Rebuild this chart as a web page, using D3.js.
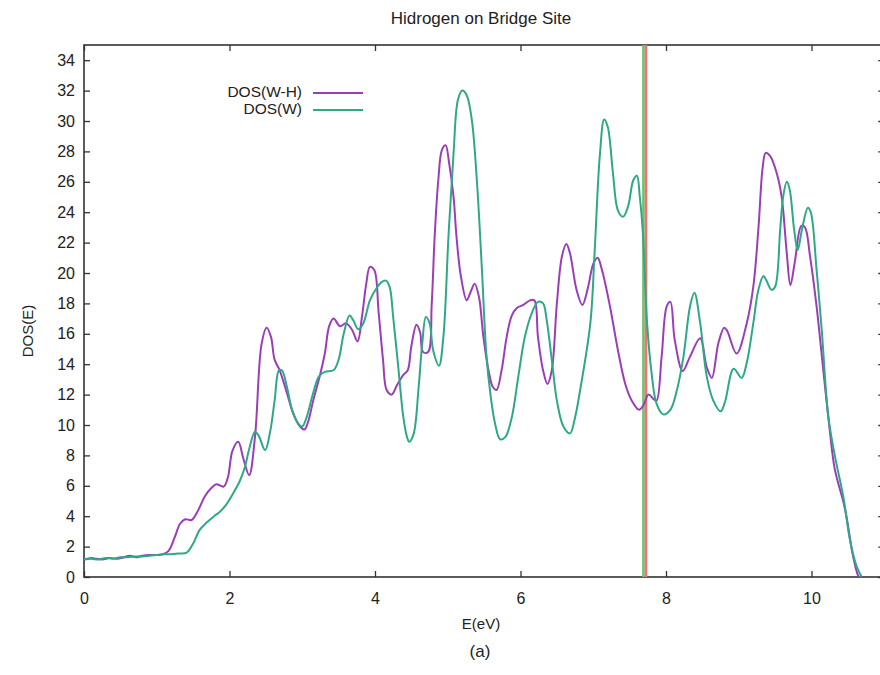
<!DOCTYPE html>
<html>
<head>
<meta charset="utf-8">
<script src="https://cdn.jsdelivr.net/npm/d3@7"></script>
<style>
  html, body { margin: 0; padding: 0; background: #fff; }
  svg { display: block; }
  text { font-family: "Liberation Sans", Arial, sans-serif; fill: #222; }
</style>
</head>
<body>
<svg id="chart" width="880" height="675"></svg>
<script>
// ---- data ----
const title = "Hidrogen on Bridge Site";
const xLabel = "E(eV)";
const yLabel = "DOS(E)";
const caption = "(a)";
const seriesNames = ["DOS(W-H)", "DOS(W)"];
const xTicks = [0, 2, 4, 6, 8, 10];
const yTicks = [0,2,4,6,8,10,12,14,16,18,20,22,24,26,28,30,32,34];
const fermiLines = [7.69, 7.725];

const eWH = [0.00,0.10,0.17,0.25,0.35,0.45,0.55,0.63,0.72,0.80,0.90,1.00,1.08,1.16,1.25,1.32,1.39,1.48,1.57,1.66,1.76,1.82,1.92,1.98,2.04,2.12,2.19,2.27,2.35,2.44,2.51,2.57,2.62,2.69,2.79,2.88,2.97,3.03,3.08,3.15,3.24,3.31,3.37,3.43,3.52,3.60,3.68,3.76,3.82,3.88,3.93,3.99,4.05,4.11,4.16,4.23,4.30,4.39,4.45,4.50,4.57,4.62,4.66,4.73,4.78,4.82,4.87,4.92,4.97,5.02,5.08,5.12,5.18,5.26,5.31,5.37,5.43,5.49,5.56,5.62,5.67,5.74,5.81,5.88,5.95,6.04,6.13,6.19,6.24,6.31,6.37,6.43,6.50,6.57,6.63,6.68,6.77,6.85,6.93,7.00,7.06,7.12,7.23,7.34,7.44,7.53,7.63,7.69,7.76,7.83,7.87,7.94,8.01,8.06,8.12,8.23,8.33,8.47,8.56,8.63,8.72,8.80,8.84,8.97,9.11,9.20,9.27,9.33,9.37,9.43,9.52,9.59,9.66,9.71,9.77,9.86,9.91,9.98,10.07,10.16,10.25,10.32,10.44,10.48,10.57,10.64,10.66];
const dosWH = [1.15,1.25,1.20,1.15,1.25,1.20,1.30,1.40,1.30,1.40,1.45,1.45,1.50,1.70,2.65,3.50,3.80,3.75,4.40,5.30,5.90,6.10,5.95,6.60,8.30,8.90,7.80,6.70,9.20,15.3,16.4,15.8,14.3,13.6,12.1,10.7,9.9,9.7,10.2,11.6,13.2,14.7,16.5,17.0,16.5,16.7,16.3,15.5,17.1,19.3,20.4,20.2,17.4,14.3,12.3,12.0,12.6,13.3,13.6,15.2,16.6,16.1,14.8,14.8,18.0,22.4,26.1,28.1,28.4,27.2,25.0,22.4,19.8,18.2,18.7,19.3,18.4,15.8,13.6,12.5,12.3,13.6,15.8,17.2,17.7,17.9,18.2,18.2,15.8,13.6,12.7,13.6,18.0,21.1,21.9,21.3,18.9,17.9,19.1,20.6,21.0,20.2,17.8,14.9,12.7,11.6,11.0,11.3,12.0,11.7,11.6,14.5,17.8,18.1,15.6,13.55,14.5,15.7,13.8,13.1,15.4,16.4,16.2,14.7,16.7,19.1,22.9,27.0,27.9,27.7,26.6,25.0,21.3,19.2,20.7,23.1,23.0,21.1,17.8,13.7,9.7,7.1,4.9,4.0,1.4,0.1,0.0];

const eW = [0.00,0.10,0.20,0.30,0.40,0.50,0.60,0.70,0.80,0.90,1.00,1.10,1.20,1.30,1.41,1.50,1.59,1.69,1.78,1.87,1.96,2.05,2.14,2.21,2.27,2.35,2.40,2.49,2.56,2.62,2.68,2.72,2.79,2.86,2.96,3.00,3.06,3.15,3.23,3.31,3.43,3.50,3.57,3.65,3.70,3.77,3.84,3.93,4.02,4.09,4.15,4.20,4.25,4.32,4.39,4.44,4.47,4.53,4.60,4.65,4.70,4.75,4.80,4.88,4.94,5.01,5.08,5.14,5.20,5.26,5.33,5.40,5.47,5.53,5.59,5.65,5.72,5.79,5.88,5.97,6.06,6.15,6.24,6.31,6.36,6.43,6.50,6.59,6.68,6.75,6.82,6.96,7.02,7.09,7.15,7.20,7.27,7.34,7.41,7.48,7.55,7.60,7.64,7.68,7.74,7.80,7.87,7.96,8.06,8.15,8.24,8.33,8.39,8.47,8.56,8.65,8.75,8.81,8.93,9.04,9.11,9.20,9.27,9.34,9.38,9.45,9.50,9.57,9.61,9.66,9.70,9.76,9.81,9.87,9.95,9.99,10.07,10.14,10.23,10.32,10.44,10.53,10.62,10.69];
const dosW = [1.15,1.20,1.15,1.25,1.20,1.30,1.30,1.35,1.35,1.40,1.45,1.50,1.50,1.55,1.60,2.20,3.10,3.60,3.97,4.30,4.80,5.50,6.30,7.20,8.4,9.56,9.3,8.35,9.6,11.6,13.6,13.6,12.5,11.0,10.0,9.9,10.5,12.1,13.2,13.5,13.6,14.3,16.0,17.2,16.9,16.3,16.7,18.2,19.0,19.4,19.5,19.1,17.1,13.8,10.5,9.2,8.9,9.4,12.5,15.4,17.1,16.7,14.9,13.9,15.8,22.4,27.9,31.4,32.0,31.7,30.1,26.1,20.2,14.7,11.9,10.1,9.06,9.2,10.5,13.2,15.8,17.3,18.1,18.0,16.9,14.3,11.6,9.9,9.45,10.5,12.3,16.7,21.5,27.7,30.1,29.6,26.6,24.1,23.7,24.4,26.1,26.4,25.0,22.8,16.7,13.5,11.4,10.7,11.0,12.3,14.5,17.8,18.7,16.7,13.2,11.6,10.9,11.5,13.7,13.1,14.1,16.7,18.9,19.8,19.5,18.9,19.1,22.9,25.0,26.0,25.5,22.9,21.5,22.9,24.3,24.0,20.2,16.3,10.6,8.0,5.2,2.4,0.7,0.0];

// ---- layout ----
const svg = d3.select("#chart");
const L = 84, T = 45, B = 577;
const x = d3.scaleLinear().domain([0, 11]).range([L, L + 11 * 72.75]);
const y = d3.scaleLinear().domain([0, 35]).range([B, T]);
const R = x.range()[1];
const axisColor = "#333";
const colWH = "#9b3db9";
const colW = "#2ea886";

svg.append("defs").append("clipPath").attr("id", "clip")
  .append("rect").attr("x", L).attr("y", T).attr("width", R - L).attr("height", B - T);

// frame
svg.append("rect").attr("x", L).attr("y", T).attr("width", R - L).attr("height", B - T)
  .attr("fill", "none").attr("stroke", axisColor).attr("stroke-width", 1.6);

// axes (inward ticks)
const tickFont = "16px";
const xAxis = svg.append("g").attr("transform", `translate(0,${B})`)
  .call(d3.axisBottom(x).tickValues(xTicks).tickSize(-6).tickPadding(16).tickFormat(d3.format("d")));
const xAxisTop = svg.append("g").attr("transform", `translate(0,${T})`)
  .call(d3.axisTop(x).tickValues(xTicks).tickSize(-6).tickFormat(""));
const yAxis = svg.append("g").attr("transform", `translate(${L},0)`)
  .call(d3.axisLeft(y).tickValues(yTicks).tickSize(-6).tickPadding(9).tickFormat(d3.format("d")));
const yAxisR = svg.append("g").attr("transform", `translate(${R},0)`)
  .call(d3.axisRight(y).tickValues(yTicks).tickSize(-6).tickFormat(""));
[xAxis, xAxisTop, yAxis, yAxisR].forEach(g => {
  g.select(".domain").remove();
  g.selectAll(".tick line").attr("stroke", axisColor).attr("stroke-width", 1.3);
  g.selectAll(".tick text").attr("font-size", tickFont).attr("fill", "#222")
    .attr("font-family", "Liberation Sans, Arial, sans-serif");
});

// vertical lines
const vCols = ["#6cc46a", "#f07272"];
fermiLines.forEach((v, i) => {
  svg.append("line").attr("x1", x(v)).attr("x2", x(v)).attr("y1", T).attr("y2", B)
    .attr("stroke", vCols[i]).attr("stroke-width", 2.6);
});

// curves
const line = d3.line().x(d => x(d[0])).y(d => y(d[1])).curve(d3.curveCatmullRom.alpha(0.5));
const dataWH = eWH.map((e, i) => [e, dosWH[i]]);
const dataW = eW.map((e, i) => [e, dosW[i]]);
const plot = svg.append("g").attr("clip-path", "url(#clip)");
plot.append("path").datum(dataWH).attr("d", line).attr("fill", "none")
  .attr("stroke", colWH).attr("stroke-width", 2);
plot.append("path").datum(dataW).attr("d", line).attr("fill", "none")
  .attr("stroke", colW).attr("stroke-width", 2);

// legend
const legY = [92, 109];
const legCols = [colWH, colW];
seriesNames.forEach((n, i) => {
  svg.append("text").attr("x", 302).attr("y", legY[i]).attr("dy", "0.35em")
    .attr("text-anchor", "end").attr("font-size", "15.5px").text(n);
  svg.append("line").attr("x1", 313).attr("x2", 363).attr("y1", legY[i] + 1).attr("y2", legY[i] + 1)
    .attr("stroke", legCols[i]).attr("stroke-width", 2);
});

// texts
svg.append("text").attr("x", 481).attr("y", 18).attr("dy", "0.35em").attr("text-anchor", "middle")
  .attr("font-size", "17px").text(title);
svg.append("text").attr("x", 481).attr("y", 624).attr("dy", "0.35em").attr("text-anchor", "middle")
  .attr("font-size", "15px").text(xLabel);
svg.append("text").attr("transform", "translate(28,331) rotate(-90)").attr("dy", "0.35em")
  .attr("text-anchor", "middle").attr("font-size", "15px").text(yLabel);
svg.append("text").attr("x", 480).attr("y", 651).attr("dy", "0.35em").attr("text-anchor", "middle")
  .attr("font-size", "17px").attr("font-family", "Liberation Serif, Times New Roman, serif")
  .text(caption);
</script>
</body>
</html>
